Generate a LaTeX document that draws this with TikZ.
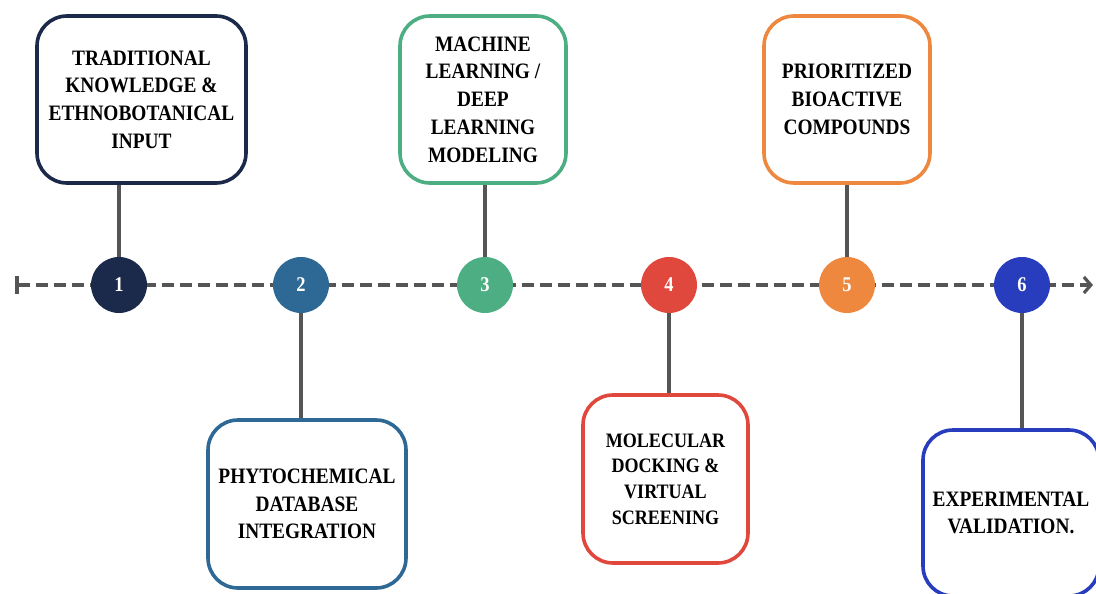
\documentclass[tikz,border=0pt]{standalone}
\usepackage{fontspec}
\setmainfont{Liberation Serif}
\newfontfamily\stagefont[FakeStretch=0.88]{Liberation Serif}
\usetikzlibrary{arrows.meta}
\definecolor{stnavy}{RGB}{27,42,74}
\definecolor{ststeel}{RGB}{46,104,148}
\definecolor{stgreen}{RGB}{76,174,130}
\definecolor{stred}{RGB}{224,72,62}
\definecolor{storange}{RGB}{238,136,62}
\definecolor{stblue}{RGB}{40,60,190}
\definecolor{stline}{RGB}{85,85,85}

\begin{document}
\begin{tikzpicture}[
    x=1pt, y=-1pt,
    stage/.style={draw=#1, fill=white, line width=3.6pt, rounded corners=30pt,
      align=center, inner sep=0pt,
      font=\stagefont\bfseries\fontsize{22}{27.7}\selectfont},
    dot/.style={circle, fill=#1, minimum size=56pt, inner sep=0pt,
      text=white, font=\stagefont\bfseries\fontsize{21}{21}\selectfont},
    link/.style={stline, line width=3.6pt},
  ]

  \useasboundingbox (0,0) rectangle (1096,594);

  % time axis
  \coordinate (start) at (15,285);
  \coordinate (end) at (1093,285);
  \draw[stline, line width=3.6pt, dash pattern=on 12pt off 6pt,
    {Bar[width=18pt,line width=4pt]}-{Straight Barb[length=7pt,width=16pt,line width=3.2pt]}]
    (start) -- (end);

  % upper stages
  \node[stage=stnavy, minimum width=209pt, minimum height=167pt] (b1) at (141.5,99.5)
    {TRADITIONAL\\KNOWLEDGE \&\\ETHNOBOTANICAL\\INPUT};
  \node[stage=stgreen, minimum width=166pt, minimum height=167pt] (b3) at (483,99.5)
    {MACHINE\\LEARNING /\\DEEP\\LEARNING\\MODELING};
  \node[stage=storange, minimum width=166pt, minimum height=167pt] (b5) at (847,99.5)
    {PRIORITIZED\\BIOACTIVE\\COMPOUNDS};

  % lower stages
  \node[stage=ststeel, minimum width=198pt, minimum height=168pt] (b2) at (307,504)
    {PHYTOCHEMICAL\\DATABASE\\INTEGRATION};
  \node[stage=stred, minimum width=165pt, minimum height=168pt,
    font=\stagefont\bfseries\fontsize{20.5}{25.7}\selectfont] (b4) at (665.5,479)
    {MOLECULAR\\DOCKING \&\\VIRTUAL\\SCREENING};
  \node[stage=stblue, minimum width=176pt, minimum height=166pt] (b6) at (1011,513)
    {EXPERIMENTAL\\VALIDATION.};

  % steps on the axis
  \node[dot=stnavy] (c1) at (119,285) {1};
  \node[dot=ststeel] (c2) at (301,285) {2};
  \node[dot=stgreen] (c3) at (485,285) {3};
  \node[dot=stred] (c4) at (669,285) {4};
  \node[dot=storange] (c5) at (847,285) {5};
  \node[dot=stblue] (c6) at (1022,285) {6};

  % stems
  \draw[link] (c1) -- (c1 |- b1.south);
  \draw[link] (c3) -- (c3 |- b3.south);
  \draw[link] (c5) -- (c5 |- b5.south);
  \draw[link] (c2) -- (c2 |- b2.north);
  \draw[link] (c4) -- (c4 |- b4.north);
  \draw[link] (c6) -- (c6 |- b6.north);

\end{tikzpicture}
\end{document}
